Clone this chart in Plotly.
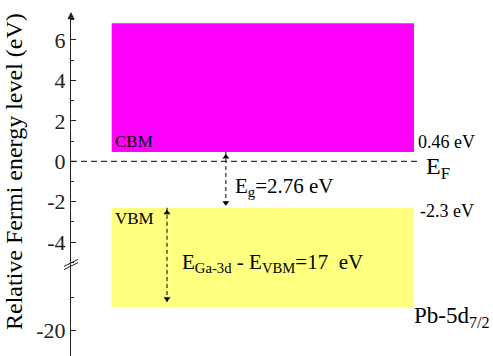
import plotly.graph_objects as go

# ---- data (energies in eV, relative to Fermi level) ----
band_names = ["CBM", "VBM"]
band_bottom = [0.46, -19.3]      # lower edge of each band block
band_top = [6.83, -2.3]          # upper edge of each band block
fermi_level = 0.0
band_gap = 2.76                  # E_g
ga3d_minus_vbm = 17              # E_Ga-3d - E_VBM
upper_ticks = [-4, -2, 0, 2, 4, 6]
upper_ticktext = ["-4", "-2", "0", "2", "4", "6"]
lower_ticks = [-20]
lower_ticktext = ["-20"]

FONT = "Liberation Serif"
W, H = 493, 356
ML = 71

fig = go.Figure()

# layout constants (positions)
box_x0, box_x1 = 0.964, 8.128
box_c = (box_x0 + box_x1) / 2
box_w = box_x1 - box_x0
colors = ["#FF00FF", "#FFFF80"]

# CBM block (upper axis only)
fig.add_trace(go.Bar(x=[box_c], y=[band_top[0] - band_bottom[0]], base=[band_bottom[0]],
                     width=[box_w], marker=dict(color=colors[0], line=dict(width=0)),
                     xaxis="x", yaxis="y", showlegend=False, hoverinfo="skip"))
# VBM block on both axis segments
for ya in ["y", "y2"]:
    fig.add_trace(go.Bar(x=[box_c], y=[band_top[1] - band_bottom[1]], base=[band_bottom[1]],
                         width=[box_w], marker=dict(color=colors[1], line=dict(width=0)),
                         xaxis="x", yaxis=ya, showlegend=False, hoverinfo="skip"))

# Fermi level dashed line
fig.add_trace(go.Scatter(x=[0, 8.27], y=[fermi_level, fermi_level], mode="lines",
                         line=dict(color="black", width=1, dash="6px,4px"),
                         xaxis="x", yaxis="y", showlegend=False, hoverinfo="skip"))

# Eg double arrow (CBM -> VBM)
eg_x = 3.67
fig.add_trace(go.Scatter(x=[eg_x, eg_x], y=[band_bottom[0], band_bottom[0] - band_gap],
                         mode="lines", line=dict(color="black", width=1, dash="4px,3px"),
                         xaxis="x", yaxis="y", showlegend=False, hoverinfo="skip"))
fig.add_trace(go.Scatter(x=[eg_x, eg_x], y=[band_bottom[0] - 0.25, band_bottom[0] - band_gap + 0.25],
                         mode="markers", marker=dict(symbol=["triangle-up", "triangle-down"],
                                                     size=6, color="black"),
                         xaxis="x", yaxis="y", showlegend=False, hoverinfo="skip", cliponaxis=False))

# Ga-3d - VBM double arrow spanning the break
vb_x = 2.275
ga3d = band_top[1] - ga3d_minus_vbm
fig.add_trace(go.Scatter(x=[vb_x, vb_x], y=[band_top[1], -8], mode="lines",
                         line=dict(color="black", width=1, dash="4px,3px"),
                         xaxis="x", yaxis="y", showlegend=False, hoverinfo="skip"))
fig.add_trace(go.Scatter(x=[vb_x, vb_x], y=[-15, ga3d + 0.1], mode="lines",
                         line=dict(color="black", width=1, dash="4px,3px"),
                         xaxis="x", yaxis="y2", showlegend=False, hoverinfo="skip"))
fig.add_trace(go.Scatter(x=[vb_x], y=[band_top[1] - 0.25], mode="markers",
                         marker=dict(symbol="triangle-up", size=6, color="black"),
                         xaxis="x", yaxis="y", showlegend=False, hoverinfo="skip", cliponaxis=False))
fig.add_trace(go.Scatter(x=[vb_x], y=[ga3d + 0.25], mode="markers",
                         marker=dict(symbol="triangle-down", size=6, color="black"),
                         xaxis="x", yaxis="y2", showlegend=False, hoverinfo="skip", cliponaxis=False))

ann = []
def txt(x, y, s, size, yref="y", xanchor="left"):
    ann.append(dict(x=x, y=y, xref="x", yref=yref, text=s, showarrow=False,
                    xanchor=xanchor, yanchor="middle",
                    font=dict(family=FONT, size=size, color="black")))

txt(box_x0 + 0.03, 1.0, band_names[0], 17)
txt(8.17, 0.95, f"{band_bottom[0]} eV", 18)
txt(8.36, -0.35, "E<sub>F</sub>", 24)
txt(3.84, -1.25, f"E<sub>g</sub>={band_gap} eV", 21)
txt(8.22, -2.45, f"{band_top[1]} eV", 18)
txt(box_x0 + 0.03, -2.85, band_names[1], 17)
txt(2.58, -5.05, f"E<sub>Ga-3d</sub> - E<sub>VBM</sub>={ga3d_minus_vbm}  eV", 21)
txt(8.08, -19.62, "Pb-5d<sub>7/2</sub>", 23, yref="y2")

# y title
ann.append(dict(x=(14 - ML) / (W - ML), y=(H - 172) / H, xref="paper", yref="paper",
                text="Relative Fermi energy level (eV)", textangle=-90, showarrow=False,
                xanchor="center", yanchor="middle",
                font=dict(family=FONT, size=24, color="black")))
# axis arrowhead
top_dom = (H - 17) / H
ann.append(dict(x=0, y=(H - 12) / H, xref="paper", yref="paper", text="", showarrow=True,
                ax=0, ay=8, arrowhead=2, arrowsize=1.2, arrowwidth=1.2, arrowcolor="#222"))

brk = (H - 265) / H
shapes = []
for dy in [-1.6, 1.6]:
    shapes.append(dict(type="line", xref="paper", yref="paper",
                       x0=(64 - ML) / (W - ML), x1=(78 - ML) / (W - ML),
                       y0=(H - 268 - dy) / H, y1=(H - 261 - dy) / H,
                       line=dict(color="#222", width=1)))

axis_common = dict(showgrid=False, zeroline=False, showline=True, linecolor="#222",
                   linewidth=1.2, ticks="inside", tickcolor="#222", ticklen=5, tickwidth=1,
                   tickfont=dict(family=FONT, size=22, color="#222"), anchor="x")

fig.update_layout(
    width=W, height=H, margin=dict(l=ML, r=0, t=0, b=0),
    plot_bgcolor="white", paper_bgcolor="white",
    font=dict(family=FONT),
    barmode="overlay",
    xaxis=dict(range=[0, 10], visible=False, domain=[0, 1]),
    yaxis=dict(domain=[brk, top_dom], range=[(161.3 - 265) / 20.22, (161.3 - 17) / 20.22],
               tickvals=upper_ticks, ticktext=upper_ticktext,
               minor=dict(dtick=1, tick0=0, ticks="inside", ticklen=3, tickcolor="#222"),
               **axis_common),
    yaxis2=dict(domain=[0, brk], range=[-20 - 26 / 33, -20 + 65 / 33],
                tickvals=lower_ticks, ticktext=lower_ticktext,
                minor=dict(tickvals=[-19], ticks="inside", ticklen=3, tickcolor="#222"),
                **axis_common),
    annotations=ann, shapes=shapes,
)

fig.write_html("out.html")
